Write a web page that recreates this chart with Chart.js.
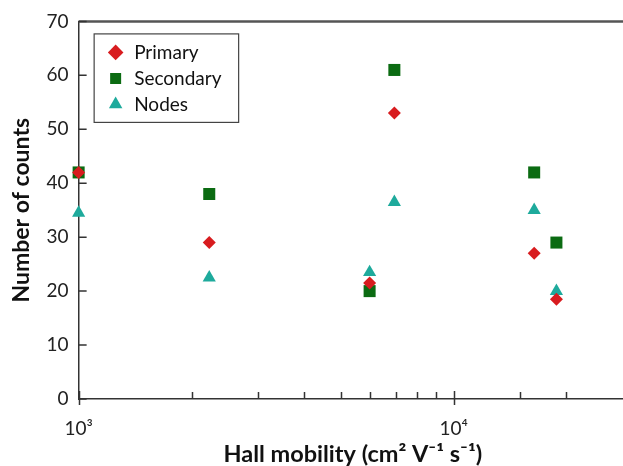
<!DOCTYPE html>
<html>
<head>
<meta charset="utf-8">
<script src="https://cdn.jsdelivr.net/npm/chart.js@4/dist/chart.umd.min.js"></script>
<style>
  html, body { margin: 0; padding: 0; overflow: hidden; background: #fff; }
  #wrap { width: 645px; height: 466px; }
</style>
</head>
<body>
<div id="wrap"><canvas id="c" width="645" height="466"></canvas></div>
<script>
// ---- data ----
const mobility  = [1000, 2230, 5970, 6950, 16400, 18800];   // Hall mobility (cm2 V-1 s-1)
const primary   = [42, 29, 21.5, 53, 27, 18.5];
const secondary = [42, 38, 20, 61, 42, 29];
const nodes     = [34.5, 22.5, 23.5, 36.5, 35, 20];
const seriesNames = ['Primary', 'Secondary', 'Nodes'];
const yTickValues = [0, 10, 20, 30, 40, 50, 60, 70];
const xTickLabels = { 1000: '10³', 10000: '10⁴' };
const xTitle = 'Hall mobility (cm² V⁻¹ s⁻¹)';
const yTitle = 'Number of counts';

const FONT = 'Lato';
const toPoints = vals => mobility.map((m, i) => ({ x: m, y: vals[i] }));

// tick marks drawn inside the plot, plus the top frame line and legend border
const frameAndTicks = {
  id: 'frameAndTicks',
  afterLayout(chart) {
    const lg = chart.legend, a = chart.chartArea;
    if (lg) { lg.left = a.left + 21; lg.top = a.top + 14.5; }
  },
  afterDraw(chart) {
    const { ctx, chartArea: a, scales } = chart;
    const x = scales.x, y = scales.y;
    ctx.save();
    // top frame line
    ctx.strokeStyle = '#555';
    ctx.lineWidth = 2.5;
    ctx.beginPath();
    ctx.moveTo(a.left, a.top);
    ctx.lineTo(chart.width, a.top);
    ctx.stroke();
    // ticks
    ctx.strokeStyle = '#333';
    ctx.lineWidth = 1.5;
    ctx.beginPath();
    x.ticks.forEach(t => {
      const px = Math.round(x.getPixelForValue(t.value)) + 0.5;
      const lg = Math.log10(t.value);
      const major = Math.abs(lg - Math.round(lg)) < 1e-9;
      ctx.moveTo(px, a.bottom - (major ? 8 : 7));
      ctx.lineTo(px, a.bottom + (major ? 6 : 0));
    });
    y.ticks.forEach(t => {
      const py = y.getPixelForValue(t.value);
      ctx.moveTo(a.left, py);
      ctx.lineTo(a.left + 8, py);
    });
    ctx.stroke();
    // legend border
    const lg = chart.legend;
    if (lg) {
      ctx.strokeStyle = '#444';
      ctx.lineWidth = 1.2;
      ctx.strokeRect(lg.left - 5.5, lg.top - 2, 144.5, 88.5);
    }
    ctx.restore();
  }
};

new Chart(document.getElementById('c'), {
  type: 'scatter',
  data: {
    datasets: [
      { label: seriesNames[0], data: toPoints(primary), pointStyle: 'rectRot', pointRadius: 6.5,
        backgroundColor: '#d81c1f', borderColor: '#d81c1f', borderWidth: 0, pointHoverRadius: 6.5, clip: false },
      { label: seriesNames[1], data: toPoints(secondary), pointStyle: 'rect', pointRadius: 8.5,
        backgroundColor: '#0b6b12', borderColor: '#0b6b12', borderWidth: 0, pointHoverRadius: 8.5, clip: false },
      { label: seriesNames[2], data: toPoints(nodes), pointStyle: 'triangle', pointRadius: 7.6,
        backgroundColor: '#1eaa9c', borderColor: '#1eaa9c', borderWidth: 0, pointHoverRadius: 7.6, clip: false }
    ]
  },
  options: {
    responsive: false,
    animation: false,
    events: [],
    layout: { padding: { left: 8, right: 0, top: 20, bottom: -3 } },
    plugins: {
      tooltip: { enabled: false },
      legend: {
        position: 'chartArea',
        align: 'start',
        labels: {
          usePointStyle: true,
          boxWidth: 18,
          boxHeight: 11,
          padding: 7,
          color: '#111',
          font: { family: FONT, size: 19 }
        }
      }
    },
    scales: {
      x: {
        type: 'logarithmic',
        min: 1000,
        max: 29000,
        grid: { display: false, drawTicks: false },
        border: { display: true, color: '#333', width: 1.5 },
        ticks: {
          autoSkip: false,
          maxRotation: 0,
          padding: 18,
          color: '#222',
          font: { family: FONT, size: 19 },
          callback: v => xTickLabels[v] || ''
        },
        title: {
          display: true, text: xTitle, color: '#111',
          font: { family: FONT, size: 23.5, weight: 'bold' },
          padding: { top: -17, bottom: 0 }
        }
      },
      y: {
        min: 0,
        max: 70,
        afterBuildTicks: s => { s.ticks = yTickValues.map(v => ({ value: v })); },
        grid: { display: false, drawTicks: false },
        border: { display: true, color: '#333', width: 1.5 },
        ticks: {
          padding: 10,
          color: '#222',
          font: { family: FONT, size: 19 }
        },
        title: {
          display: true, text: yTitle, color: '#111',
          font: { family: FONT, size: 23, weight: 'bold' },
          padding: { top: 0, bottom: 1 }
        }
      }
    }
  },
  plugins: [frameAndTicks]
});
</script>
</body>
</html>
